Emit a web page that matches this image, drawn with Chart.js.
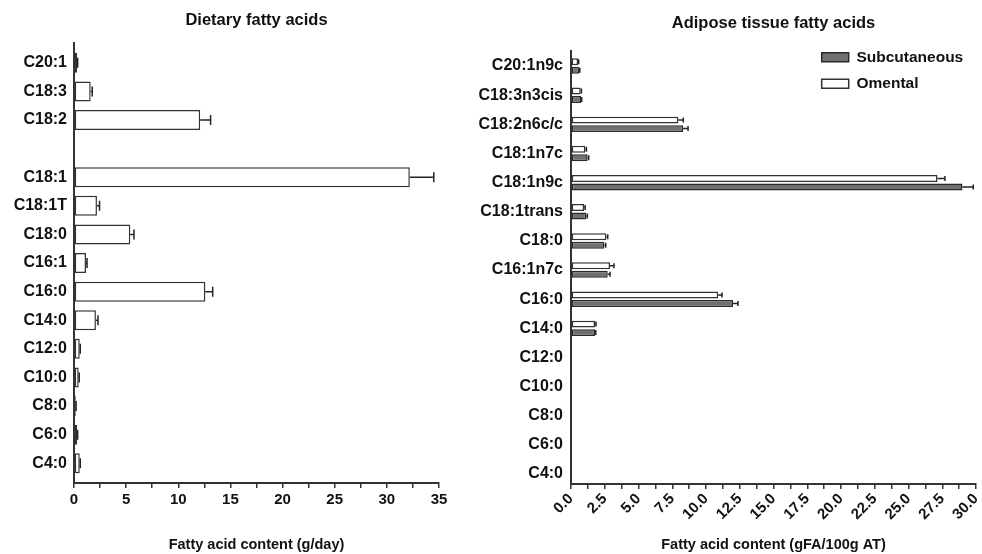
<!DOCTYPE html>
<html><head><meta charset="utf-8">
<script src="https://cdn.jsdelivr.net/npm/chart.js@4/dist/chart.umd.min.js"></script>
<style>
html,body{margin:0;padding:0;background:#fff;}
#wrap{position:relative;width:982px;height:554px;overflow:hidden;background:#fff;}
#c1{position:absolute;left:0;top:0;}
#c2{position:absolute;left:470px;top:0;}
</style></head><body>
<div id="wrap"><canvas id="c1" width="470" height="554"></canvas><canvas id="c2" width="512" height="554"></canvas></div>
<script>
// ---- Dietary fatty acids (g/day) ----
const dietCategories = ['C20:1','C18:3','C18:2','','C18:1','C18:1T','C18:0','C16:1','C16:0','C14:0','C12:0','C10:0','C8:0','C6:0','C4:0'];
const dietValues = [0.3, 1.6, 12.1, null, 32.2, 2.2, 5.4, 1.15, 12.6, 2.1, 0.55, 0.45, 0.17, 0.3, 0.55];
const dietErrors = [0.05, 0.15, 1.0, null, 2.3, 0.25, 0.35, 0.1, 0.7, 0.2, 0.05, 0.05, 0.03, 0.05, 0.05];
const dietTickLabels = ['0','5','10','15','20','25','30','35'];

// ---- Adipose tissue fatty acids (gFA/100g AT) ----
const adiposeCategories = ['C20:1n9c','C18:3n3cis','C18:2n6c/c','C18:1n7c','C18:1n9c','C18:1trans','C18:0','C16:1n7c','C16:0','C14:0','C12:0','C10:0','C8:0','C6:0','C4:0'];
const subcutaneousValues = [0.6, 0.74, 8.3, 1.23, 29.0, 1.13, 2.47, 2.72, 12.0, 1.78, null, null, null, null, null];
const subcutaneousErrors = [0.05, 0.05, 0.37, 0.08, 0.8, 0.08, 0.1, 0.17, 0.37, 0.05, null, null, null, null, null];
const omentalValues = [0.52, 0.72, 7.95, 1.06, 27.15, 0.97, 2.62, 2.89, 10.9, 1.78, null, null, null, null, null];
const omentalErrors = [0.05, 0.05, 0.37, 0.08, 0.55, 0.08, 0.1, 0.29, 0.29, 0.07, null, null, null, null, null];
const adiposeTickLabels = ['0.0','2.5','5.0','7.5','10.0','12.5','15.0','17.5','20.0','22.5','25.0','27.5','30.0'];

const FONT = "'Liberation Sans', Arial, Helvetica, sans-serif";
Chart.defaults.font.family = FONT;
Chart.defaults.font.weight = 'bold';
Chart.defaults.color = '#111';

const errorBars = {
  id: 'errorBars',
  afterDatasetsDraw(chart, args, opts) {
    const ctx = chart.ctx;
    const xs = chart.scales.x;
    chart.data.datasets.forEach((ds, di) => {
      if (!ds.errors) return;
      const meta = chart.getDatasetMeta(di);
      meta.data.forEach((bar, i) => {
        const v = ds.data[i], e = ds.errors[i];
        if (v == null || !e) return;
        const x0 = xs.getPixelForValue(v), x1 = xs.getPixelForValue(v + e);
        const y = bar.y;
        ctx.save();
        ctx.strokeStyle = '#222';
        ctx.lineWidth = opts.lineWidth || 1.5;
        ctx.beginPath();
        ctx.moveTo(x0, y); ctx.lineTo(x1, y);
        ctx.moveTo(x1, y - opts.cap / 2); ctx.lineTo(x1, y + opts.cap / 2);
        ctx.stroke();
        ctx.restore();
      });
    });
  }
};

const legendMover = {
  id: 'legendMover',
  afterLayout(chart, args, opts) {
    const lg = chart.legend;
    if (!lg || opts.left == null) return;
    const w = lg.width, h = lg.height;
    lg.left = opts.left; lg.top = opts.top;
    lg.right = lg.left + w; lg.bottom = lg.top + h;
  }
};

new Chart(document.getElementById('c1'), {
  type: 'bar',
  data: {
    labels: dietCategories,
    datasets: [{
      data: dietValues, errors: dietErrors,
      backgroundColor: '#ffffff', borderColor: '#333', borderWidth: 1.5, borderSkipped: false,
      barPercentage: 0.7, categoryPercentage: 1
    }]
  },
  options: {
    indexAxis: 'y', responsive: false, animation: false,
    layout: { padding: { left: 0, right: 31, top: 0, bottom: 0 } },
    plugins: {
      legend: { display: false }, tooltip: { enabled: false },
      title: { display: true, text: 'Dietary fatty acids', fullSize: false, font: { size: 16.5, weight: 'bold' }, color: '#111', padding: { top: 11, bottom: 12 } },
      errorBars: { cap: 10 }
    },
    scales: {
      y: {
        type: 'category',
        grid: { display: false, drawTicks: false },
        border: { display: true, color: '#333', width: 2 },
        ticks: { font: { size: 16, weight: 'bold' }, color: '#111', padding: 7 },
        afterFit: s => { s.width = 74; },
        afterBuildTicks: s => { s._startValue -= 0.2; s._valueRange += 0.39; }
      },
      x: {
        type: 'linear', min: 0, max: 35,
        grid: { drawOnChartArea: false, color: '#333', lineWidth: 1.5, tickLength: 5 },
        border: { display: true, color: '#333', width: 2 },
        ticks: {
          stepSize: 2.5, autoSkip: false, maxRotation: 0, minRotation: 0,
          font: { size: 15, weight: 'bold' }, color: '#111', padding: 3,
          callback: v => { const t = dietTickLabels.find(l => Math.abs(parseFloat(l) - v) < 1e-6); return t !== undefined ? t : ''; }
        },
        title: { display: true, text: 'Fatty acid content (g/day)', font: { size: 14.5, weight: 'bold' }, color: '#111', padding: { top: 0, bottom: 0 } },
        afterFit: s => { s.height = 71; s.paddingLeft = 0; s.paddingRight = 0; }
      }
    }
  },
  plugins: [errorBars]
});

new Chart(document.getElementById('c2'), {
  type: 'bar',
  data: {
    labels: adiposeCategories,
    datasets: [
      { label: 'Omental', data: omentalValues, errors: omentalErrors,
        backgroundColor: '#ffffff', borderColor: '#333', borderWidth: 1.5, borderSkipped: false,
        barPercentage: 0.82, categoryPercentage: 0.583 },
      { label: 'Subcutaneous', data: subcutaneousValues, errors: subcutaneousErrors,
        backgroundColor: '#707070', borderColor: '#2a2a2a', borderWidth: 1.5, borderSkipped: false,
        barPercentage: 0.82, categoryPercentage: 0.583 }
    ]
  },
  options: {
    indexAxis: 'y', responsive: false, animation: false,
    layout: { padding: { left: 0, right: 6, top: 0, bottom: 0 } },
    plugins: {
      tooltip: { enabled: false },
      legend: {
        display: true, position: 'chartArea', align: 'start', reverse: true,
        labels: { boxWidth: 27, boxHeight: 9, padding: 11, color: '#111', font: { size: 15.5, weight: 'bold' } }
      },
      legendMover: { left: 340.7, top: 38.5 },
      title: { display: true, text: 'Adipose tissue fatty acids', fullSize: false, font: { size: 16.5, weight: 'bold' }, color: '#111', padding: { top: 14, bottom: 17.5 } },
      errorBars: { cap: 5 }
    },
    scales: {
      y: {
        type: 'category',
        grid: { display: false, drawTicks: false },
        border: { display: true, color: '#333', width: 2 },
        ticks: { font: { size: 16, weight: 'bold' }, color: '#111', padding: 8 },
        afterFit: s => { s.width = 101; },
        afterBuildTicks: s => { s._startValue -= 0.007; s._valueRange -= 0.153; }
      },
      x: {
        type: 'linear', min: 0, max: 30,
        grid: { drawOnChartArea: false, color: '#333', lineWidth: 1.5, tickLength: 5 },
        border: { display: true, color: '#333', width: 2 },
        ticks: {
          stepSize: 1.25, autoSkip: false, maxRotation: 45, minRotation: 45,
          font: { size: 15, weight: 'bold' }, color: '#111', padding: 1,
          callback: v => { const t = adiposeTickLabels.find(l => Math.abs(parseFloat(l) - v) < 1e-6); return t !== undefined ? t : ''; }
        },
        title: { display: true, text: 'Fatty acid content (gFA/100g AT)', font: { size: 14.5, weight: 'bold' }, color: '#111', padding: { top: 0, bottom: 0 } },
        afterFit: s => { s.height = 70; s.paddingLeft = 0; s.paddingRight = 0; }
      }
    }
  },
  plugins: [errorBars, legendMover]
});
</script>
</body></html>
